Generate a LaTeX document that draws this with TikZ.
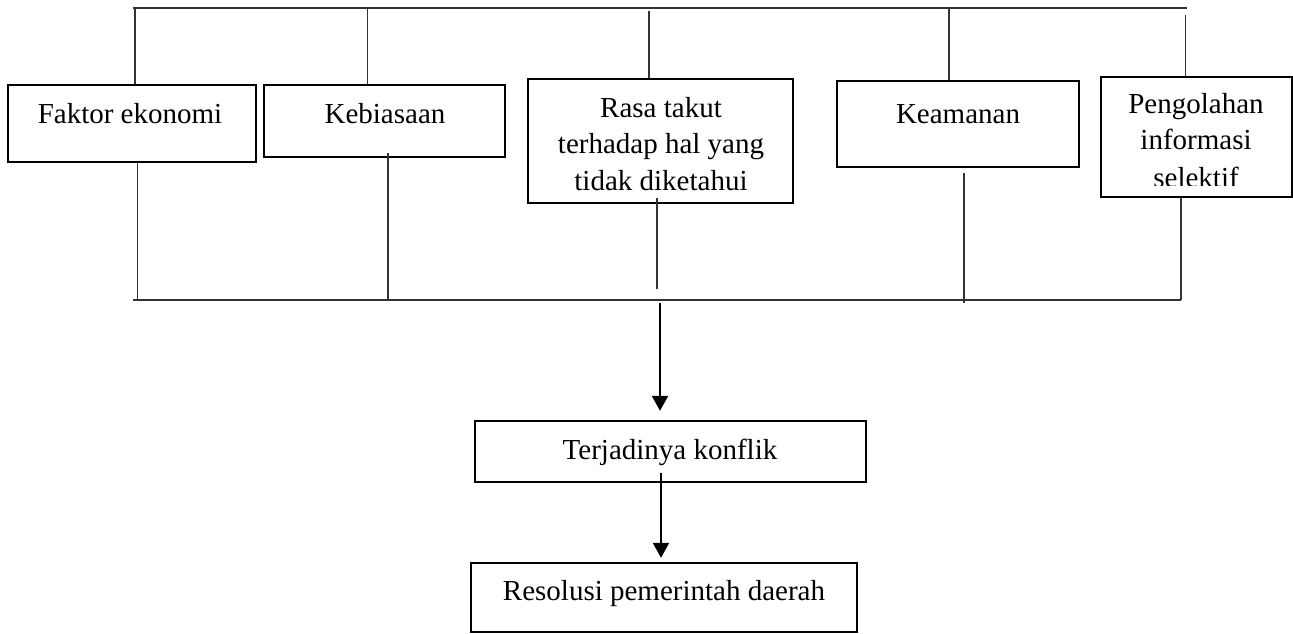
\documentclass[tikz,border=0pt]{standalone}
\usepackage{fontspec}
\setmainfont{Liberation Serif}
\usetikzlibrary{arrows.meta}
\begin{document}
\begin{tikzpicture}[x=0.5pt,y=-0.5pt,
  box/.style={draw=black,line width=1.2pt,minimum width=#1,inner sep=0pt,fill=none},
  lbl/.style={inner sep=0pt,anchor=base,font=\fontsize{14.5}{17}\selectfont},
  conn/.style={draw=black!80,line width=0.65pt},
  arr/.style={draw=black,line width=1.1pt,-{Triangle[length=7.5pt,width=8pt]}}]
\useasboundingbox (0,0) rectangle (1293,633);
% boxes
\node[box=124pt,minimum height=38.5pt] (F) at (132,123.5) {};
\node[box=120.5pt,minimum height=36pt] (K) at (384.5,121) {};
\node[box=132.5pt,minimum height=62pt] (R) at (660.5,141) {};
\node[box=121pt,minimum height=43pt] (Ke) at (958,124) {};
\node[box=95.5pt,minimum height=60pt] (P) at (1196.5,137) {};
\node[box=195.5pt,minimum height=30.5pt] (T) at (670.5,451.5) {};
\node[box=193pt,minimum height=34.5pt] (Res) at (664,597.5) {};
% labels
\node[lbl] (tF) at (130,123) {Faktor ekonomi};
\node[lbl] (tK) at (385,123) {Kebiasaan};
\node[lbl] (tR1) at (661,117) {Rasa takut};
\node[lbl] (tR2) at (661,153.5) {terhadap hal yang};
\node[lbl] (tR3) at (661,190) {tidak diketahui};
\node[lbl] (tKe) at (958,123) {Keamanan};
\node[lbl] (tP1) at (1196,113) {Pengolahan};
\node[lbl] (tP2) at (1196,149.5) {informasi};
\begin{scope}
\clip (1102,150) rectangle (1290,185);
\node[lbl] (tP3) at (1196,187) {selektif};
\end{scope}
\node[lbl] (tT) at (670,459) {Terjadinya konflik};
\node[lbl] (tRes) at (664,600) {Resolusi pemerintah daerah};
% top bus
\coordinate (tl) at (133,8);
\coordinate (tr) at (1187,8);
\draw[conn] (tl) -- (tr);
\coordinate (aF) at (135,8);
\coordinate (aK) at (367.5,8);
\coordinate (aR) at (649,11);
\coordinate (aKe) at (949,8);
\coordinate (aP) at (1185.5,15);
\draw[conn] (aF) -- (aF |- F.north);
\draw[conn] (aK) -- (aK |- K.north);
\draw[conn] (aR) -- (aR |- R.north);
\draw[conn] (aKe) -- (aKe |- Ke.north);
\draw[conn] (aP) -- (aP |- P.north);
% bottom bus
\coordinate (bl) at (133,300);
\coordinate (bF) at (137.5,300);
\coordinate (bK) at (388,300);
\coordinate (bR) at (657,289);
\coordinate (bKe) at (964,303);
\coordinate (bP) at (1181,300);
\draw[conn] (bl) -- (bP);
\draw[conn] (bF |- F.south) -- (bF);
\draw[conn] ([yshift=2.5pt]bK |- K.south) -- (bK);
\draw[conn] ([yshift=3pt]bR |- R.south) -- (bR);
\draw[conn] ([yshift=-2.5pt]bKe |- Ke.south) -- (bKe);
\draw[conn] (bP |- P.south) -- (bP);
% arrows
\coordinate (a1) at (660,303);
\coordinate (a2) at (661,473);
\draw[arr,shorten >=4.5pt] (a1) -- (a1 |- T.north);
\draw[arr,shorten >=2pt] (a2) -- (a2 |- Res.north);
\end{tikzpicture}
\end{document}
